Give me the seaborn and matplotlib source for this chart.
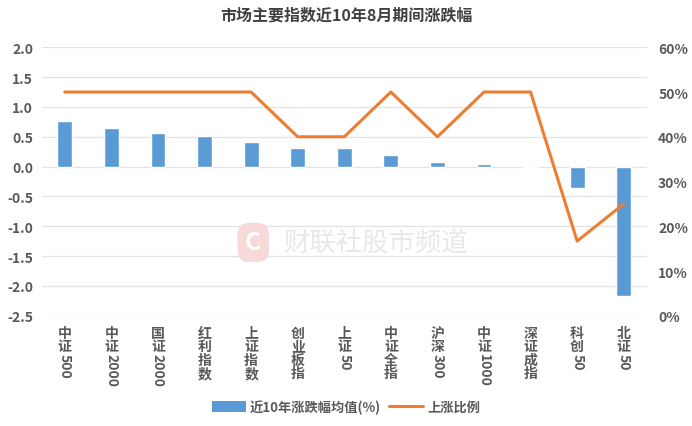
import matplotlib
matplotlib.use("Agg")
import matplotlib.pyplot as plt
import matplotlib.transforms as mtransforms
from matplotlib.patches import Patch
from matplotlib.lines import Line2D
import seaborn as sns
import pandas as pd
import re

# data
categories = ["中证500", "中证2000", "国证2000", "红利指数", "上证指数", "创业板指", "上证50",
              "中证全指", "沪深300", "中证1000", "深证成指", "科创50", "北证50"]
avg_change = [0.76, 0.65, 0.57, 0.51, 0.42, 0.32, 0.31, 0.19, 0.08, 0.04, -0.02, -0.36, -2.17]
up_ratio = [50, 50, 50, 50, 50, 40, 40, 50, 40, 50, 50, 16.7, 25]

title = "市场主要指数近10年8月期间涨跌幅"
bar_label = "近10年涨跌幅均值(%)"
line_label = "上涨比例"

BLUE = "#5B9BD5"
ORANGE = "#ED7D31"
TXT = "#595959"

sns.set_theme(style="white")
plt.rcParams['font.family'] = ['Noto Sans CJK SC', 'DejaVu Sans']
plt.rcParams['axes.unicode_minus'] = False

df = pd.DataFrame({"index": categories, "avg": avg_change, "ratio": up_ratio})

fig = plt.figure(figsize=(6.92, 4.27), dpi=100)
ax = fig.add_axes([0.060, 0.258, 0.875, 0.629])

sns.barplot(data=df, x="index", y="avg", color=BLUE, width=0.32, saturation=1, ax=ax, zorder=3)
ax.set_ylim(-2.5, 2.0)
ax.set_yticks([2.0, 1.5, 1.0, 0.5, 0.0, -0.5, -1.0, -1.5, -2.0, -2.5])
ax.set_yticklabels([f"{v:.1f}" for v in ax.get_yticks()], fontsize=10, fontweight="bold", color=TXT)
ax.yaxis.grid(True, color="#E3E3E3", linewidth=0.9, zorder=0)
ax.set_xlim(-0.5, len(categories) - 0.5)
ax.set_xlabel("")
ax.set_ylabel("")
ax.set_xticks(range(len(categories)))
ax.set_xticklabels([])
ax.tick_params(axis="both", length=0, pad=6)
for s in ax.spines.values():
    s.set_visible(False)

ax2 = ax.twinx()
sns.lineplot(x=list(range(len(categories))), y=df["ratio"], color=ORANGE, linewidth=2.2, ax=ax2, zorder=4)
ax2.set_ylim(0, 60)
ax2.set_yticks(range(0, 61, 10))
ax2.set_yticklabels([f"{v}%" for v in range(0, 61, 10)], fontsize=10, fontweight="bold", color=TXT)
ax2.tick_params(axis="y", length=0, pad=8)
ax2.set_ylabel("")
ax2.grid(False)
for s in ax2.spines.values():
    s.set_visible(False)

# vertical category labels: chinese characters upright, digits rotated
trans = mtransforms.blended_transform_factory(ax.transData, ax.transAxes)
step = 9.8
for i, name in enumerate(categories):
    parts = re.findall(r"\d+|\D", name)
    off = -7
    for p in parts:
        if p.isdigit():
            ax.annotate(p, xy=(i, 0), xycoords=trans, xytext=(0, off - 0.5), textcoords="offset points",
                        ha="center", va="top", rotation=-90, fontsize=10, fontweight="bold", color=TXT)
            off -= 6.2 * len(p)
        else:
            ax.annotate(p, xy=(i, 0), xycoords=trans, xytext=(0, off), textcoords="offset points",
                        ha="center", va="top", fontsize=10, fontweight="bold", color=TXT)
            off -= step

fig.text(0.5, 0.963, title, ha="center", va="center", fontsize=11.5, fontweight="bold", color="#404040")

# watermark
fig.text(0.366, 0.430, "C", ha="center", va="center", fontsize=18, fontweight="bold", color="white",
         bbox=dict(boxstyle="round,pad=0.3,rounding_size=0.45", fc="#F8D9D9", ec="none"), zorder=0)
fig.text(0.543, 0.430, "财联社股市频道", ha="center", va="center", fontsize=19, color="#E8E8E8", zorder=0)

handles = [Patch(facecolor=BLUE, edgecolor="none"), Line2D([0], [0], color=ORANGE, linewidth=2.2)]
fig.legend(handles, [bar_label, line_label], loc="center", bbox_to_anchor=(0.5, 0.045), ncol=2,
           frameon=False, handlelength=2.6, handleheight=0.8, columnspacing=0.6,
           handletextpad=0.3, labelcolor=TXT, prop={"weight": "bold", "size": 9.5})

fig.savefig("out.png", dpi=100)
